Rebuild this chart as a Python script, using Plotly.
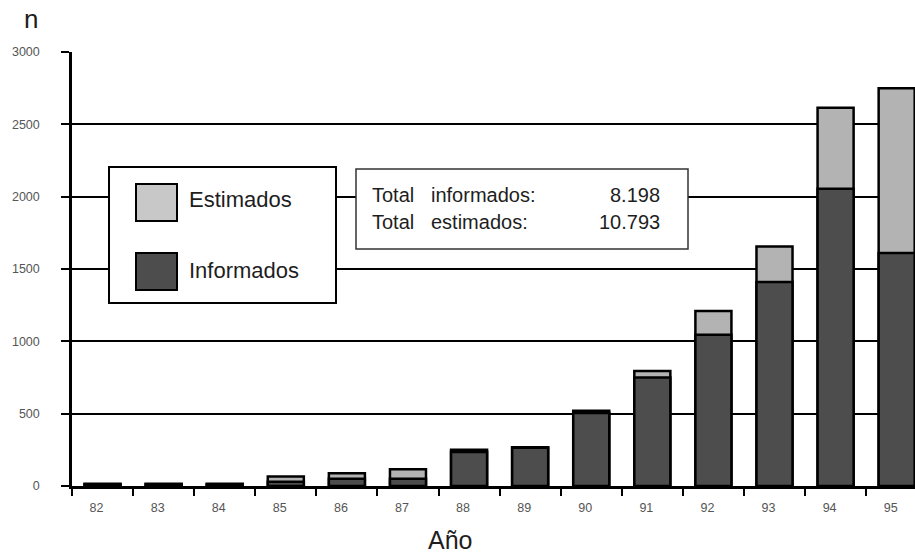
import plotly.graph_objects as go

# Annual counts (n) by year
years = ["82", "83", "84", "85", "86", "87", "88", "89", "90", "91", "92", "93", "94", "95"]
informados = [10, 10, 10, 30, 50, 50, 235, 265, 505, 750, 1045, 1410, 2055, 1610]
estimados = [15, 15, 15, 65, 88, 115, 250, 268, 520, 795, 1210, 1655, 2615, 2750]
y_ticks = [0, 500, 1000, 1500, 2000, 2500, 3000]

total_informados = "8.198"
total_estimados = "10.793"

W, H = 915, 554
L, R, T, B = 72, 0, 52, 68
PW, PH = W - L - R, H - T - B

LIGHT = "#b3b3b3"
DARK = "#4d4d4d"
FONT = "Liberation Sans, Arial, sans-serif"
TICK_FONT = dict(family=FONT, size=12.5, color="#555555")
INK = "#1e1e1e"


def px(x):
    return (x - L) / PW


def py(y):
    return (H - B - y) / PH


fig = go.Figure()
fig.add_trace(go.Bar(x=years, y=estimados, name="Estimados", width=0.59,
                     marker=dict(color=LIGHT, line=dict(color="black", width=2.5))))
fig.add_trace(go.Bar(x=years, y=informados, name="Informados", width=0.59,
                     marker=dict(color=DARK, line=dict(color="black", width=2.5))))

shapes = []
annotations = []

# legend panel
shapes.append(dict(type="rect", xref="paper", yref="paper", layer="above",
                   x0=px(109), x1=px(336), y0=py(303), y1=py(167),
                   fillcolor="white", line=dict(color="black", width=2)))
for (y0, y1), yc, color, label in [((184, 221), 199, "#c8c8c8", "Estimados"),
                                    ((253, 290), 270, DARK, "Informados")]:
    shapes.append(dict(type="rect", xref="paper", yref="paper", layer="above",
                       x0=px(136), x1=px(177), y0=py(y1), y1=py(y0),
                       fillcolor=color, line=dict(color="black", width=2)))
    annotations.append(dict(xref="paper", yref="paper", x=px(187), y=py(yc),
                            text=label, showarrow=False, xanchor="left", yanchor="middle",
                            font=dict(family=FONT, size=22, color=INK)))

# totals panel
shapes.append(dict(type="rect", xref="paper", yref="paper", layer="above",
                   x0=px(356), x1=px(688), y0=py(249), y1=py(169),
                   fillcolor="white", line=dict(color="#333333", width=1.5)))
for yc, word, value in [(194.5, "informados:", total_informados),
                        (222, "estimados:", total_estimados)]:
    common = dict(xref="paper", yref="paper", y=py(yc), showarrow=False, yanchor="middle",
                  font=dict(family=FONT, size=20, color=INK))
    annotations.append(dict(x=px(370), text="Total", xanchor="left", **common))
    annotations.append(dict(x=px(429), text=word, xanchor="left", **common))
    annotations.append(dict(x=px(662), text=value, xanchor="right", **common))

# axis titles
annotations.append(dict(xref="paper", yref="paper", x=px(30.5), y=py(19), text="n",
                        showarrow=False, xanchor="center", yanchor="middle",
                        font=dict(family=FONT, size=26, color=INK)))
annotations.append(dict(xref="paper", yref="paper", x=px(450), y=py(540), text="Año",
                        showarrow=False, xanchor="center", yanchor="middle",
                        font=dict(family=FONT, size=25, color=INK)))

fig.update_layout(
    width=W, height=H,
    margin=dict(l=L, r=R, t=T, b=B, pad=0),
    paper_bgcolor="white", plot_bgcolor="white",
    barmode="overlay", showlegend=False,
    shapes=shapes, annotations=annotations,
    xaxis=dict(type="category", range=[-0.5, 13.3], showgrid=False,
               showline=True, linecolor="black", linewidth=3,
               ticks="outside", tickson="boundaries", ticklen=7, tickwidth=2,
               tickcolor="black", tickfont=TICK_FONT, ticklabelstandoff=8,
               ticklabelshift=-6),
    yaxis=dict(range=[0, 3000], tickvals=y_ticks, ticktext=[str(v) for v in y_ticks],
               showgrid=True, gridcolor="black", gridwidth=2,
               zeroline=False,
               showline=True, linecolor="black", linewidth=2.5,
               ticks="outside", ticklen=8, tickwidth=2, tickcolor="black",
               tickfont=TICK_FONT, ticklabelstandoff=19),
)

fig.write_html("out.html")
